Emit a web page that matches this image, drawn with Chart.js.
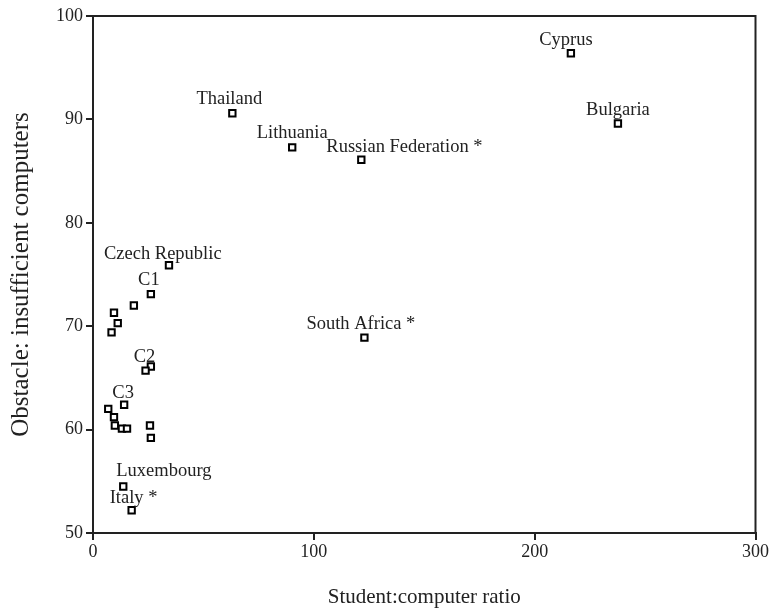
<!DOCTYPE html>
<html>
<head>
<meta charset="utf-8">
<script src="https://cdn.jsdelivr.net/npm/chart.js@4"></script>
<style>
  html, body { margin: 0; padding: 0; background: #fff; }
  #wrap { width: 770px; height: 610px; }
</style>
</head>
<body>
<div id="wrap"><canvas id="chart" width="770" height="610"></canvas></div>
<script>
// student:computer ratio vs % principals reporting insufficient computers
const ratio = [216.4, 237.7, 63.1, 90.2, 121.5, 34.4, 26.2, 122.9, 18.5, 9.5, 11.2, 8.4,
               26.2, 23.8, 14.1, 6.9, 9.5, 9.9, 13.1, 15.4, 25.8, 26.2, 13.7, 17.5];
const obstacle = [96.4, 89.6, 90.6, 87.3, 86.1, 75.9, 73.1, 68.9, 72.0, 71.3, 70.3, 69.4,
                  66.1, 65.7, 62.4, 62.0, 61.2, 60.4, 60.1, 60.1, 60.4, 59.2, 54.5, 52.2];
const names = ['Cyprus', 'Bulgaria', 'Thailand', 'Lithuania', 'Russian Federation *',
               'Czech Republic', 'C1', 'South Africa *', '', '', '', '',
               '', 'C2', 'C3', '', '', '', '', '', '', '', 'Luxembourg', 'Italy *'];
const xTicks = [0, 100, 200, 300];
const yTicks = [50, 60, 70, 80, 90, 100];

const FONT = '"Liberation Serif", "DejaVu Serif", serif';
const INK = '#222';

// where each label sits relative to its point (dx, dy, align)
const labelPos = {
  'Cyprus': [-5, -13, 'center'],
  'Bulgaria': [0, -13, 'center'],
  'Thailand': [-3, -14, 'center'],
  'Lithuania': [0, -14, 'center'],
  'Russian Federation *': [-35, -13, 'left'],
  'Czech Republic': [-65, -11, 'left'],
  'C1': [-2, -14, 'center'],
  'South Africa *': [-58, -13, 'left'],
  'C2': [-1, -14, 'center'],
  'C3': [-1, -12, 'center'],
  'Luxembourg': [-7, -15, 'left'],
  'Italy *': [-22, -12, 'left']
};

const points = ratio.map((r, i) => ({ x: r, y: obstacle[i] }));

const framePlugin = {
  id: 'frame',
  afterDraw(chart) {
    const { ctx, chartArea: a } = chart;
    ctx.save();
    ctx.strokeStyle = INK;
    ctx.lineWidth = 2;
    ctx.beginPath();
    ctx.moveTo(a.left - 6, a.top);
    ctx.lineTo(a.right, a.top);
    ctx.lineTo(a.right, a.bottom);
    ctx.stroke();
    ctx.restore();
  }
};

const labelPlugin = {
  id: 'pointLabels',
  afterDatasetsDraw(chart) {
    const { ctx, scales } = chart;
    ctx.save();
    ctx.font = '18.5px ' + FONT;
    ctx.fillStyle = INK;
    ctx.textBaseline = 'middle';
    names.forEach((n, i) => {
      if (!n) return;
      const p = labelPos[n];
      const px = scales.x.getPixelForValue(ratio[i]);
      const py = scales.y.getPixelForValue(obstacle[i]);
      ctx.textAlign = p[2];
      ctx.fillText(n, px + p[0], py + p[1]);
    });
    ctx.restore();
  }
};

new Chart(document.getElementById('chart'), {
  type: 'scatter',
  data: {
    datasets: [{
      data: points,
      pointStyle: 'rect',
      pointRadius: 4.5,
      pointBackgroundColor: '#fff',
      pointBorderColor: '#000',
      pointBorderWidth: 2,
      pointHoverRadius: 4.5
    }]
  },
  options: {
    responsive: false,
    animation: false,
    layout: { padding: { top: 16, right: 13, left: 0, bottom: 0 } },
    plugins: { legend: { display: false }, tooltip: { enabled: false } },
    scales: {
      x: {
        type: 'linear',
        min: 0, max: 300,
        afterBuildTicks: s => { s.ticks = xTicks.map(v => ({ value: v })); },
        afterFit: s => { s.height = 77; },
        grid: { drawOnChartArea: false, drawTicks: true, tickLength: 7, color: INK, lineWidth: 2 },
        border: { display: true, color: INK, width: 2 },
        ticks: { color: INK, font: { family: FONT, size: 18 }, padding: 1 },
        title: { display: true, text: 'Student:computer ratio', color: INK,
                 font: { family: FONT, size: 21 }, padding: { top: 10, bottom: 0 } }
      },
      y: {
        type: 'linear',
        min: 50, max: 100,
        afterBuildTicks: s => { s.ticks = yTicks.map(v => ({ value: v })); },
        afterFit: s => { s.width = 93; },
        grid: { drawOnChartArea: false, drawTicks: true, tickLength: 7, color: INK, lineWidth: 2 },
        border: { display: true, color: INK, width: 2 },
        ticks: { color: INK, font: { family: FONT, size: 18 }, padding: 3 },
        title: { display: true, text: 'Obstacle: insufficient computers', color: INK,
                 font: { family: FONT, size: 25 }, padding: { top: 6, bottom: 6 } }
      }
    }
  },
  plugins: [framePlugin, labelPlugin]
});
</script>
</body>
</html>
